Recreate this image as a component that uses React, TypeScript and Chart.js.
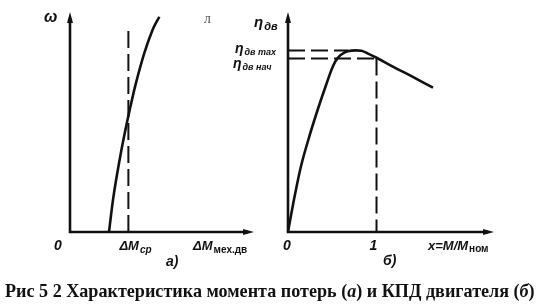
import React, { useEffect, useRef } from "react";
import { Chart, registerables } from "chart.js";

Chart.register(...registerables);

const W = 546;
const H = 305;

// Panel (а): speed ω versus loss torque ΔM (relative units)
const lossTorque = [0.213, 0.2375, 0.271, 0.299, 0.33, 0.36, 0.406, 0.451, 0.488];
const lossSpeed = [0, 0.163, 0.332, 0.455, 0.577, 0.685, 0.824, 0.931, 0.992];
const avgLossTorque = 0.319; // ΔMср
const avgMarkerTop = 0.93;

// Panel (б): motor efficiency versus relative load x = M/Mном
const loadRatio = [0, 0.076, 0.151, 0.245, 0.339, 0.434, 0.509, 0.565, 0.641, 0.716, 0.829, 0.904, 1.0, 1.2, 1.4, 1.638];
const efficiency = [0, 0.167, 0.31, 0.446, 0.568, 0.682, 0.765, 0.804, 0.828, 0.836, 0.835, 0.822, 0.803, 0.759, 0.717, 0.665];
const etaMax = 0.836;
const etaMaxLoad = 0.68;
const etaStart = 0.8;
const nominalLoad = 1;

const CAPTION_PARTS: [string, boolean][] = [
  ["Рис 5 2 Характеристика момента потерь (", false],
  ["а", true],
  [") и КПД двигателя (", false],
  ["б", true],
  [")", false],
];

const INK = "#111";
const LBL = "italic bold 14px 'Liberation Sans', Arial, sans-serif";
const SUB = "italic bold 10px 'Liberation Sans', Arial, sans-serif";

type Area = { l: number; r: number; t: number; b: number };

function pts(xs: number[], ys: number[]) {
  return xs.map((x, i) => ({ x, y: ys[i] }));
}

function curve(data: { x: number; y: number }[]) {
  return {
    data,
    borderColor: INK,
    borderWidth: 2.6,
    pointRadius: 0,
    tension: 0.35,
    clip: false as const,
  };
}

function dashed(data: { x: number; y: number }[]) {
  return {
    data,
    borderColor: INK,
    borderWidth: 2,
    borderDash: [17, 6],
    pointRadius: 0,
    tension: 0,
    clip: false as const,
  };
}

function subLabel(
  ctx: CanvasRenderingContext2D,
  x: number,
  y: number,
  main: string,
  sub: string,
  mainFont = LBL,
  subFont = SUB,
  dy = 3
) {
  ctx.font = mainFont;
  ctx.textAlign = "left";
  ctx.textBaseline = "alphabetic";
  ctx.fillText(main, x, y);
  const w = ctx.measureText(main).width;
  ctx.font = subFont;
  ctx.fillText(sub, x + w + 1, y + dy);
}

function drawAxes(chart: any) {
  const { ctx } = chart;
  const xs = chart.scales.x;
  const ys = chart.scales.y;
  const x0 = xs.getPixelForValue(0);
  const y0 = ys.getPixelForValue(0);
  const xEnd = xs.right + 1;
  const yTop = ys.top - 3;
  ctx.save();
  ctx.strokeStyle = INK;
  ctx.fillStyle = INK;
  ctx.lineWidth = 2.6;
  ctx.lineCap = "butt";
  ctx.beginPath();
  ctx.moveTo(x0, y0);
  ctx.lineTo(x0, yTop + 6);
  ctx.moveTo(x0 - 1.3, y0);
  ctx.lineTo(xEnd - 6, y0);
  ctx.stroke();
  // arrow heads
  ctx.beginPath();
  ctx.moveTo(x0, yTop);
  ctx.lineTo(x0 - 3, yTop + 11);
  ctx.lineTo(x0 + 3, yTop + 11);
  ctx.closePath();
  ctx.fill();
  ctx.beginPath();
  ctx.moveTo(xEnd, y0);
  ctx.lineTo(xEnd - 11, y0 - 3);
  ctx.lineTo(xEnd - 11, y0 + 3);
  ctx.closePath();
  ctx.fill();
  ctx.restore();
}

function drawCaption(ctx: CanvasRenderingContext2D) {
  const fontFor = (size: number, it: boolean) =>
    `${it ? "italic " : ""}bold ${size}px 'Liberation Serif', 'Times New Roman', serif`;
  const measure = (size: number) =>
    CAPTION_PARTS.reduce((acc, [t, it]) => {
      ctx.font = fontFor(size, it);
      return acc + ctx.measureText(t).width;
    }, 0);
  const size = (17 * 530) / measure(17);
  let x = 5;
  ctx.textAlign = "left";
  for (const [t, it] of CAPTION_PARTS) {
    ctx.font = fontFor(size, it);
    ctx.fillText(t, x, 297);
    x += ctx.measureText(t).width;
  }
}

function makeChart(
  canvas: HTMLCanvasElement,
  datasets: any[],
  area: Area,
  xMax: number,
  decorate: (chart: any) => void
) {
  return new Chart(canvas, {
    type: "line",
    data: { datasets },
    options: {
      responsive: false,
      animation: false,
      layout: {
        padding: { left: area.l, top: area.t, right: W - area.r, bottom: H - area.b },
      },
      scales: {
        x: { type: "linear", min: 0, max: xMax, display: false },
        y: { type: "linear", min: 0, max: 1, display: false },
      },
      plugins: { legend: { display: false }, tooltip: { enabled: false } },
      elements: { point: { radius: 0 } },
    },
    plugins: [
      { id: "axes", beforeDatasetsDraw: (chart: any) => drawAxes(chart) },
      { id: "labels", afterDatasetsDraw: (chart: any) => decorate(chart) },
    ],
  } as any);
}

export default function App() {
  const leftRef = useRef<HTMLCanvasElement | null>(null);
  const rightRef = useRef<HTMLCanvasElement | null>(null);

  useEffect(() => {
    const left = makeChart(
      leftRef.current!,
      [
        curve(pts(lossTorque, lossSpeed)),
        dashed([
          { x: avgLossTorque, y: 0 },
          { x: avgLossTorque, y: avgMarkerTop },
        ]),
      ],
      { l: 70, r: 253, t: 15, b: 232 },
      1,
      (chart: any) => {
        const { ctx } = chart;
        const xs = chart.scales.x;
        ctx.save();
        ctx.fillStyle = INK;
        ctx.font = "italic bold 16px 'Liberation Sans', Arial, sans-serif";
        ctx.fillText("ω", 44, 22);
        ctx.font = LBL;
        ctx.textAlign = "center";
        ctx.fillText("0", 58, 250);
        subLabel(ctx, xs.getPixelForValue(avgLossTorque) - 9, 250, "ΔM", "ср", "italic bold 13px 'Liberation Sans', Arial, sans-serif");
        subLabel(ctx, 193, 250, "ΔM", "мех.дв", "italic bold 13px 'Liberation Sans', Arial, sans-serif", "bold 10px 'Liberation Sans', Arial, sans-serif");
        ctx.font = LBL;
        ctx.textAlign = "left";
        ctx.fillText("а)", 166, 266);
        // stray mark near the top
        ctx.fillStyle = "#333";
        ctx.font = "10px 'Liberation Serif', serif";
        ctx.fillText("Л", 204, 23);
        ctx.fillStyle = INK;
        drawCaption(ctx);
        ctx.restore();
      }
    );

    const right = makeChart(
      rightRef.current!,
      [
        curve(pts(loadRatio, efficiency)),
        dashed([
          { x: 0, y: etaMax },
          { x: etaMaxLoad, y: etaMax },
        ]),
        dashed([
          { x: 0, y: etaStart },
          { x: nominalLoad, y: etaStart },
        ]),
        dashed([
          { x: nominalLoad, y: etaStart },
          { x: nominalLoad, y: 0 },
        ]),
      ],
      { l: 288, r: 493, t: 15, b: 232 },
      2.316,
      (chart: any) => {
        const { ctx } = chart;
        const xs = chart.scales.x;
        const ys = chart.scales.y;
        ctx.save();
        ctx.fillStyle = INK;
        subLabel(ctx, 254, 27, "η", "дв", "italic bold 15px 'Liberation Sans', Arial, sans-serif", "italic bold 11px 'Liberation Sans', Arial, sans-serif");
        subLabel(ctx, 235, ys.getPixelForValue(etaMax) + 2, "η", "дв max", LBL, "italic bold 9px 'Liberation Sans', Arial, sans-serif", 2);
        subLabel(ctx, 233, ys.getPixelForValue(etaStart) + 10, "η", "дв нач", LBL, "italic bold 9px 'Liberation Sans', Arial, sans-serif", 2);
        ctx.font = LBL;
        ctx.textAlign = "center";
        ctx.fillText("0", xs.getPixelForValue(0) - 1, 250);
        ctx.fillText("1", xs.getPixelForValue(nominalLoad) - 3, 250);
        subLabel(ctx, 428, 250, "x=M/M", "ном", "italic bold 13px 'Liberation Sans', Arial, sans-serif", "bold 10px 'Liberation Sans', Arial, sans-serif", 2);
        ctx.font = LBL;
        ctx.textAlign = "left";
        ctx.fillText("б)", 383, 265);
        ctx.restore();
      }
    );

    return () => {
      left.destroy();
      right.destroy();
    };
  }, []);

  const canvasStyle: React.CSSProperties = { position: "absolute", left: 0, top: 0 };
  return (
    <div style={{ position: "absolute", left: 0, top: 0, width: W, height: H, background: "#fff" }}>
      <canvas ref={leftRef} width={W} height={H} style={canvasStyle} />
      <canvas ref={rightRef} width={W} height={H} style={canvasStyle} />
    </div>
  );
}
